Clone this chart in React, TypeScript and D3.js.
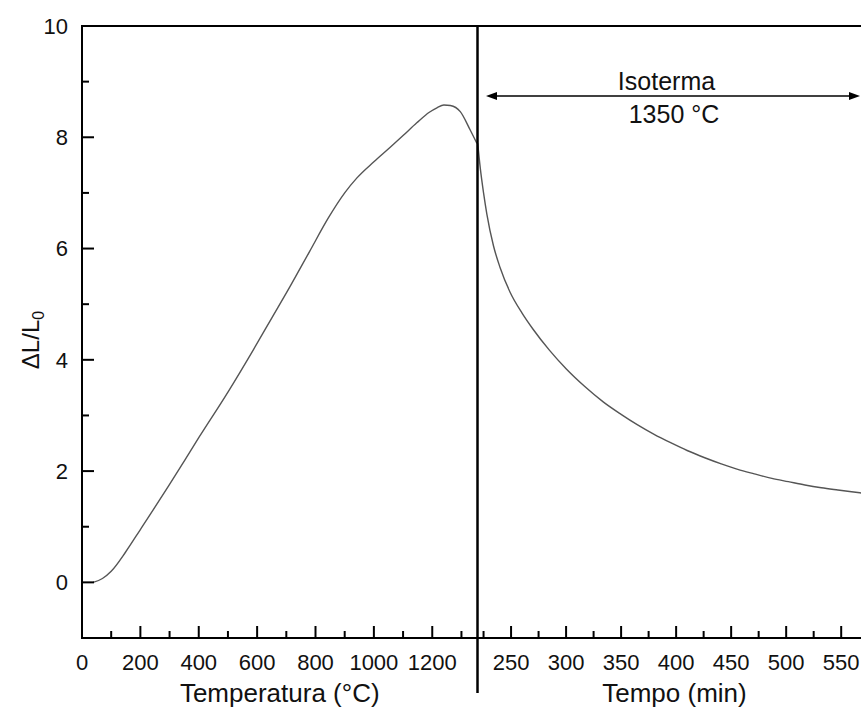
import React from "react";
import * as d3 from "d3";

const tempValues = [38, 70, 100, 150, 200, 300, 400, 500, 587, 650, 713, 780, 844, 900, 942, 1000, 1056, 1100, 1147, 1190, 1216, 1240, 1262, 1296, 1330, 1353];
const tempDL = [0, 0.07, 0.2, 0.55, 0.95, 1.76, 2.6, 3.42, 4.18, 4.75, 5.32, 5.95, 6.55, 7.0, 7.27, 7.56, 7.82, 8.03, 8.26, 8.45, 8.53, 8.58, 8.57, 8.46, 8.13, 7.89];

const timeValues = [219.7, 222, 225, 228, 234, 240, 249, 260, 270, 285, 300, 317, 334, 350, 365, 380, 395, 410, 426, 441, 456, 471, 487, 502, 517, 532, 547, 567, 575];
const timeDL = [7.89, 7.45, 7.0, 6.62, 6.05, 5.66, 5.22, 4.84, 4.55, 4.17, 3.84, 3.52, 3.24, 3.02, 2.83, 2.66, 2.51, 2.37, 2.24, 2.13, 2.03, 1.95, 1.87, 1.81, 1.75, 1.7, 1.66, 1.61, 1.59];

const yMajor = [0, 2, 4, 6, 8, 10];
const yMinor = [-1, 1, 3, 5, 7, 9];
const tempMajor = [0, 200, 400, 600, 800, 1000, 1200];
const tempMinor = [100, 300, 500, 700, 900, 1100, 1300];
const timeMajor = [250, 300, 350, 400, 450, 500, 550];
const timeMinor = [225, 275, 325, 375, 425, 475, 525, 575];

const W = 861;
const H = 708;
const left = 82;
const top = 26;
const bottom = 638;
const divX = 477.5;
const FONT = "'Liberation Sans', Arial, sans-serif";

export default function App() {
  const y = d3.scaleLinear().domain([-1, 10]).range([bottom, top]);
  const xT = d3.scaleLinear().domain([0, 1355]).range([left, divX]);
  const xM = d3.scaleLinear().domain([219.5, 568]).range([divX, W]);

  const lineT = d3
    .line<number>()
    .x((d, i) => xT(tempValues[i]))
    .y((d) => y(d))
    .curve(d3.curveMonotoneX);
  const lineM = d3
    .line<number>()
    .x((d, i) => xM(timeValues[i]))
    .y((d) => y(d))
    .curve(d3.curveMonotoneX);

  const majorLen = 12;
  const minorLen = 7;
  const arrowY = 96;
  const arrowL = 486;
  const arrowR = 860;

  return (
    <svg
      width={W}
      height={H}
      style={{ position: "absolute", left: 0, top: 0, background: "#fff" }}
      fontFamily={FONT}
    >
      <defs>
        <clipPath id="plotclip">
          <rect x={left} y={top} width={W - left} height={bottom - top} />
        </clipPath>
      </defs>

      {/* curves */}
      <g clipPath="url(#plotclip)">
        <path d={lineT(tempDL) || ""} fill="none" stroke="#555" strokeWidth={1.4} />
        <path d={lineM(timeDL) || ""} fill="none" stroke="#555" strokeWidth={1.4} />
      </g>

      {/* frame */}
      <line x1={left} x2={W} y1={top} y2={top} stroke="#000" strokeWidth={2} />
      <line x1={left} x2={left} y1={top - 1} y2={bottom + 1} stroke="#000" strokeWidth={2} />
      <line x1={left} x2={W} y1={bottom} y2={bottom} stroke="#000" strokeWidth={2} />
      <line x1={divX} x2={divX} y1={top} y2={693} stroke="#000" strokeWidth={2.5} />

      {/* y ticks */}
      {yMajor.map((v) => (
        <g key={"ym" + v}>
          <line x1={left} x2={left + majorLen} y1={y(v)} y2={y(v)} stroke="#000" strokeWidth={2} />
          <text x={68} y={y(v)} dy="0.36em" textAnchor="end" fontSize={22} fill="#111">
            {v}
          </text>
        </g>
      ))}
      {yMinor.map((v) => (
        <line key={"yn" + v} x1={left} x2={left + minorLen} y1={y(v)} y2={y(v)} stroke="#000" strokeWidth={2} />
      ))}

      {/* temperature ticks */}
      {tempMajor.map((v) => (
        <g key={"tm" + v}>
          <line x1={xT(v)} x2={xT(v)} y1={bottom} y2={bottom - majorLen} stroke="#000" strokeWidth={2} />
          <text x={xT(v)} y={670} textAnchor="middle" fontSize={22} fill="#111">
            {v}
          </text>
        </g>
      ))}
      {tempMinor.map((v) => (
        <line key={"tn" + v} x1={xT(v)} x2={xT(v)} y1={bottom} y2={bottom - minorLen} stroke="#000" strokeWidth={2} />
      ))}

      {/* time ticks */}
      {timeMajor.map((v) => (
        <g key={"mm" + v}>
          <line x1={xM(v)} x2={xM(v)} y1={bottom} y2={bottom - majorLen} stroke="#000" strokeWidth={2} />
          <text x={xM(v)} y={670} textAnchor="middle" fontSize={22} fill="#111">
            {v}
          </text>
        </g>
      ))}
      {timeMinor.map((v) => (
        <line key={"mn" + v} x1={xM(v)} x2={xM(v)} y1={bottom} y2={bottom - minorLen} stroke="#000" strokeWidth={2} />
      ))}

      {/* axis titles */}
      <text x={(left + divX) / 2} y={702} textAnchor="middle" fontSize={26} fill="#111">
        Temperatura (°C)
      </text>
      <text x={674.5} y={702} textAnchor="middle" fontSize={26} fill="#111">
        Tempo (min)
      </text>
      <text transform="translate(39,340) rotate(-90)" textAnchor="middle" fontSize={24} fill="#111">
        ΔL/L
        <tspan fontSize={16} dy={5}>0</tspan>
      </text>

      {/* isotherm arrow */}
      <line x1={arrowL + 8} x2={arrowR - 8} y1={arrowY} y2={arrowY} stroke="#000" strokeWidth={1.6} />
      <path d={`M${arrowL},${arrowY} L${arrowL + 11},${arrowY - 4} L${arrowL + 11},${arrowY + 4} Z`} fill="#000" />
      <path d={`M${arrowR},${arrowY} L${arrowR - 11},${arrowY - 4} L${arrowR - 11},${arrowY + 4} Z`} fill="#000" />
      <text x={666.5} y={90} textAnchor="middle" fontSize={25} fill="#111">
        Isoterma
      </text>
      <text x={674} y={123} textAnchor="middle" fontSize={25} fill="#111">
        1350 °C
      </text>
    </svg>
  );
}
